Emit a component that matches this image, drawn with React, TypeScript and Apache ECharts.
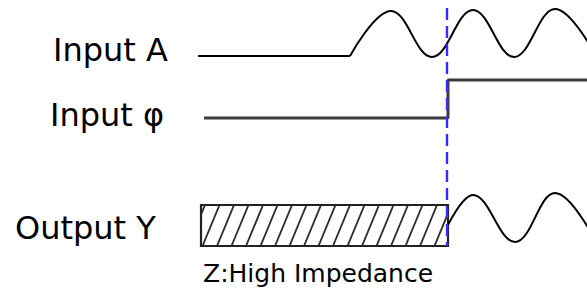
import React, { useEffect, useRef } from "react";
import * as echarts from "echarts";

// Labels
const signalNames = ["Input A", "Input φ", "Output Y"];
const highZLabel = "Z:High Impedance";

// Waveforms: [time, level] (level axis runs downward)
const inputAIdle: number[][] = [[198, 56], [350, 56]];
const inputAWave: number[][] = [
  [350, 56], [391, 11], [432, 57], [473, 10], [514, 57], [555, 9], [596, 56],
];
const inputPhi: number[][] = [[204, 118], [448, 118], [448, 80], [587, 80]];
const outputYWave: number[][] = [
  [448, 225], [473, 195], [515, 242], [555, 193], [596, 242],
];
// High-impedance span: [tStart, tEnd, levelTop, levelBottom]
const highZSpan: number[][] = [[201, 448, 205, 246]];
// Enable edge marker
const enableMarker: number[][] = [[447, 8], [447, 246]];

// Label anchors (time, level) for texts
const labelAnchors: number[][] = [[53, 50], [50, 115], [15, 228]];
const highZAnchor: number[] = [203, 273];

export default function App() {
  const ref = useRef<HTMLDivElement>(null);
  useEffect(() => {
    if (!ref.current) return;
    const chart = echarts.init(ref.current, undefined, { renderer: "svg" });
    const font = '"DejaVu Sans", Verdana, sans-serif';
    const option: any = {
      animation: false,
      backgroundColor: "#ffffff",
      grid: { left: 0, right: 0, top: 0, bottom: 0 },
      xAxis: { type: "value", min: 0, max: 587, show: false },
      yAxis: { type: "value", min: 0, max: 288, inverse: true, show: false },
      series: [
        {
          type: "custom",
          name: "High Z",
          coordinateSystem: "cartesian2d",
          data: highZSpan,
          z: 2,
          renderItem: (params: any, api: any) => {
            const a = api.coord([api.value(0), api.value(2)]);
            const b = api.coord([api.value(1), api.value(3)]);
            const left = Math.min(a[0], b[0]);
            const right = Math.max(a[0], b[0]);
            const top = Math.min(a[1], b[1]);
            const bottom = Math.max(a[1], b[1]);
            const spacing = 14.5;
            const slant = 17;
            const children: any[] = [];
            for (let bx = left - slant - spacing + 4; bx < right + spacing; bx += spacing) {
              const tmin = Math.max(0, (left - bx) / slant);
              const tmax = Math.min(1, (right - bx) / slant);
              if (tmin >= tmax) continue;
              children.push({
                type: "line",
                shape: {
                  x1: bx + slant * tmin,
                  y1: bottom + (top - bottom) * tmin,
                  x2: bx + slant * tmax,
                  y2: bottom + (top - bottom) * tmax,
                },
                style: { stroke: "#2e2e2e", lineWidth: 1.9 },
              });
            }
            children.push({
              type: "rect",
              shape: { x: left, y: top, width: right - left, height: bottom - top },
              style: { fill: "none", stroke: "#222", lineWidth: 2.2 },
            });
            return { type: "group", children };
          },
        },
        {
          type: "line",
          name: "Input A idle",
          data: inputAIdle,
          symbol: "none",
          lineStyle: { color: "#000", width: 2 },
          z: 3,
        },
        {
          type: "line",
          name: "Input A",
          data: inputAWave,
          symbol: "none",
          smooth: 0.4,
          lineStyle: { color: "#000", width: 2 },
          z: 3,
        },
        {
          type: "line",
          name: "Input φ",
          data: inputPhi,
          symbol: "none",
          lineStyle: { color: "#3c3c3c", width: 3 },
          z: 3,
        },
        {
          type: "line",
          name: "Output Y",
          data: outputYWave,
          symbol: "none",
          smooth: 0.4,
          lineStyle: { color: "#000", width: 2 },
          z: 3,
        },
        {
          type: "line",
          name: "Enable",
          data: enableMarker,
          symbol: "none",
          lineStyle: { color: "#2f2fff", width: 2.4, type: [12, 6] },
          z: 5,
        },
      ],
    };
    chart.setOption(option);
    const px = (p: number[]) => chart.convertToPixel({ gridIndex: 0 } as any, p) as number[];
    const graphics: any[] = signalNames.map((name, i) => {
      const p = px(labelAnchors[i]);
      return {
        type: "text",
        x: p[0],
        y: p[1],
        style: {
          text: name,
          font: `32px ${font}`,
          fill: "#000",
          textAlign: "left",
          verticalAlign: "middle",
          textVerticalAlign: "middle",
        },
        z: 10,
      };
    });
    const hz = px(highZAnchor);
    graphics.push({
      type: "text",
      x: hz[0],
      y: hz[1],
      style: {
        text: highZLabel,
        font: `25px ${font}`,
        fill: "#000",
        textAlign: "left",
        verticalAlign: "middle",
        textVerticalAlign: "middle",
      },
      z: 10,
    });
    chart.setOption({ graphic: graphics });
    return () => chart.dispose();
  }, []);
  return (
    <div
      ref={ref}
      style={{ position: "absolute", left: 0, top: 0, width: 587, height: 288 }}
    />
  );
}
